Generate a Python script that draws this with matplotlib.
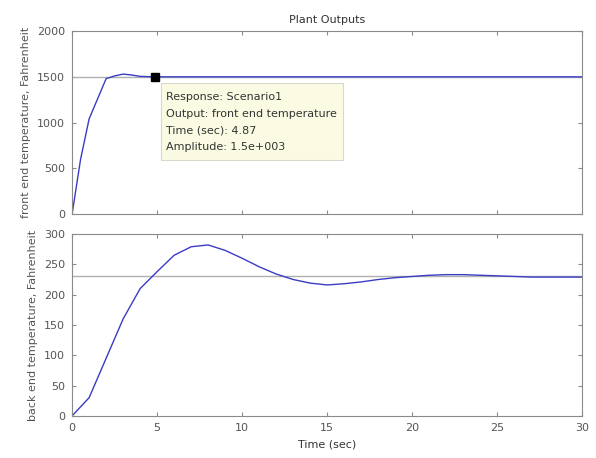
import matplotlib

matplotlib.use("Agg")
import matplotlib.pyplot as plt
from matplotlib.patches import Rectangle

# front end temperature response (sec, Fahrenheit)
t_front = [0, 0.5, 1.0, 1.5, 2.0, 2.5, 3.0, 3.5, 4.0, 4.87, 10, 20, 30]
y_front = [0, 600, 1040, 1260, 1480, 1510, 1530, 1520, 1505, 1500, 1500, 1500, 1500]
front_final = 1500

# back end temperature response
t_back = [0, 1, 2, 3, 4, 5, 6, 7, 8, 9, 10, 11, 12, 13, 14, 15, 16, 17, 18,
          19, 20, 21, 22, 23, 24, 25, 26, 27, 28, 29, 30]
y_back = [0, 30, 95, 160, 210, 238, 265, 279, 282, 273, 260, 246, 234, 225,
          219, 216, 218, 221, 225, 228, 230, 232, 233, 233, 232, 231, 230,
          229, 229, 229, 229]
back_final = 230

marker_t, marker_y = 4.87, 1500
tip_lines = ["Response: Scenario1", "Output: front end temperature",
             "Time (sec): 4.87", "Amplitude: 1.5e+003"]

LINE = "#3b3bc4"
GRID = "#b0b0b0"
FS = 8

fig = plt.figure(figsize=(5.96, 4.58), dpi=100)
ax1 = fig.add_axes([0.121, 0.533, 0.856, 0.399])
ax2 = fig.add_axes([0.121, 0.092, 0.856, 0.397])

for ax in (ax1, ax2):
    for s in ax.spines.values():
        s.set_color("#8a8a8a")
    ax.tick_params(direction="in", top=True, right=True, colors="#8a8a8a",
                   labelcolor="#555555", labelsize=FS, length=3, pad=5)
    ax.set_xlim(0, 30)
    ax.set_xticks([0, 5, 10, 15, 20, 25, 30])

ax1.axhline(front_final, color=GRID, linewidth=1.0)
ax1.plot(t_front, y_front, color=LINE, linewidth=1.0)
ax1.plot([marker_t], [marker_y], marker="s", color="black", markersize=6)
ax1.set_ylim(0, 2000)
ax1.set_yticks([0, 500, 1000, 1500, 2000])
ax1.tick_params(labelbottom=False)
ax1.set_ylabel("front end temperature, Fahrenheit", fontsize=FS, color="#555555")
ax1.set_title("Plant Outputs", fontsize=FS, color="#333333", pad=6)

# data tip box (axes fraction)
ax1.add_patch(Rectangle((0.1745, 0.295), 0.3565, 0.421, transform=ax1.transAxes,
                        facecolor="#fbfbe4", edgecolor="#d8d8cc", linewidth=0.8,
                        zorder=4))
for i, line in enumerate(tip_lines):
    ax1.text(0.184, 0.639 - i * 0.091, line, transform=ax1.transAxes,
             fontsize=FS, color="#333333", va="center", ha="left", zorder=5)

ax2.axhline(back_final, color=GRID, linewidth=1.0)
ax2.plot(t_back, y_back, color=LINE, linewidth=1.0)
ax2.set_ylim(0, 300)
ax2.set_yticks([0, 50, 100, 150, 200, 250, 300])
ax2.set_ylabel("back end temperature, Fahrenheit", fontsize=FS, color="#555555")
ax2.set_xlabel("Time (sec)", fontsize=FS, color="#333333", labelpad=5)

fig.savefig("out.png", dpi=100)
